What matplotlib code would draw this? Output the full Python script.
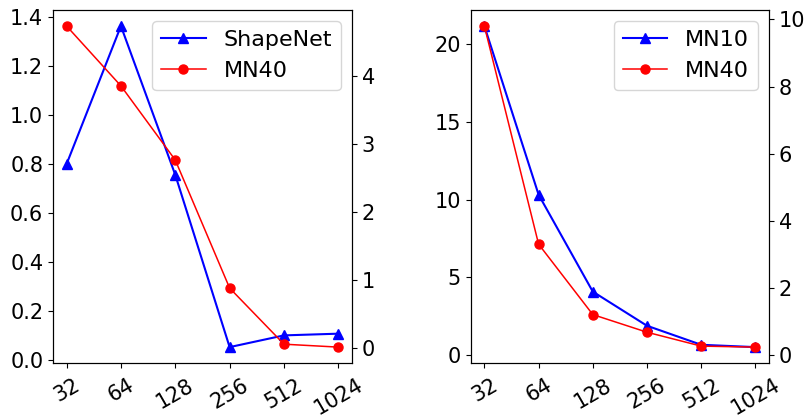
import numpy as np
import matplotlib.pyplot as plt

plt.rcParams['font.size'] = 15

sizes = ['32', '64', '128', '256', '512', '1024']

# left panel
shapenet = [0.80, 1.365, 0.756, 0.051, 0.099, 0.106]
mn40_left = [4.74, 3.86, 2.77, 0.888, 0.063, 0.02]

# right panel
mn10 = [21.13, 10.31, 4.09, 1.90, 0.68, 0.53]
mn40_right = [9.80, 3.31, 1.215, 0.69, 0.277, 0.247]

x = np.arange(len(sizes))

fig = plt.figure(figsize=(8.09, 4.16), dpi=100)
ax1 = fig.add_axes([0.0655, 0.127, 0.3695, 0.849])
ax2 = fig.add_axes([0.582, 0.127, 0.3685, 0.849])


def panel(ax, blue, red, blue_label):
    l1, = ax.plot(x, blue, color='blue', marker='^', markersize=7, linewidth=1.5,
                  label=blue_label)
    axr = ax.twinx()
    l2, = axr.plot(x, red, color='red', marker='o', markersize=6.5, linewidth=1.1,
                   label='MN40')
    ax.set_xticks(x)
    ax.set_xticklabels(sizes, rotation=30)
    ax.tick_params(axis='x', pad=5)
    ax.legend(handles=[l1, l2], loc='upper right', fontsize=16)
    return axr


axr1 = panel(ax1, shapenet, mn40_left, 'ShapeNet')
axr2 = panel(ax2, mn10, mn40_right, 'MN10')

fig.savefig('out.png', dpi=100)
